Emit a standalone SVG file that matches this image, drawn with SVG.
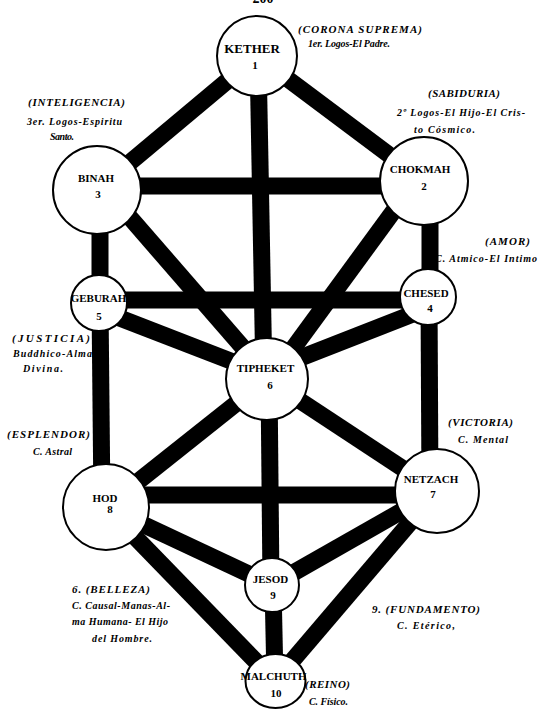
<svg xmlns="http://www.w3.org/2000/svg" width="544" height="725" viewBox="0 0 544 725">
<style>
.bar{stroke:#000;stroke-width:17;stroke-linecap:butt;fill:none}
.node{fill:#fff;stroke:#000;stroke-width:2}
.lbl{font-family:"Liberation Serif","Times New Roman",serif;font-weight:bold;font-size:11px;fill:#000;text-anchor:middle}
.ann{font-family:"Liberation Serif","Times New Roman",serif;font-weight:bold;font-style:italic;font-size:10px;fill:#000}
.cap{font-size:11px}
.pg{font-family:"Liberation Serif","Times New Roman",serif;font-weight:bold;font-size:14px;fill:#000;text-anchor:middle}
</style>
<rect width="544" height="725" fill="#fff"/>
<text class="pg" x="263" y="3">200</text>
<g id="connectors">
<line class="bar" x1="257" y1="56" x2="97" y2="190"/>
<line class="bar" x1="257" y1="56" x2="424" y2="181"/>
<line class="bar" x1="258" y1="56" x2="264" y2="379"/>
<line class="bar" x1="97" y1="186" x2="424" y2="186"/>
<line class="bar" x1="100" y1="190" x2="100" y2="303"/>
<line class="bar" x1="100" y1="183" x2="265" y2="373"/>
<line class="bar" x1="430" y1="181" x2="430" y2="297"/>
<line class="bar" x1="420" y1="175" x2="270" y2="380"/>
<line class="bar" x1="99" y1="300" x2="428" y2="300"/>
<line class="bar" x1="99" y1="310" x2="267" y2="375"/>
<line class="bar" x1="100" y1="303" x2="102" y2="507"/>
<line class="bar" x1="428" y1="308" x2="267" y2="371"/>
<line class="bar" x1="429" y1="297" x2="430" y2="491"/>
<line class="bar" x1="267" y1="379" x2="106" y2="507"/>
<line class="bar" x1="267" y1="379" x2="437" y2="491"/>
<line class="bar" x1="269" y1="379" x2="271" y2="585"/>
<line class="bar" x1="106" y1="495" x2="437" y2="495"/>
<line class="bar" x1="106" y1="507" x2="272" y2="585"/>
<line class="bar" x1="106" y1="507" x2="275" y2="681"/>
<line class="bar" x1="437" y1="491" x2="272" y2="585"/>
<line class="bar" x1="437" y1="491" x2="275" y2="681"/>
<line class="bar" x1="273" y1="585" x2="275" y2="681"/>
</g>
<g id="kether">
<circle class="node" cx="257" cy="56" r="40"/>
<text class="lbl" x="252" y="53" style="font-size:13px">KETHER</text>
<text class="lbl" x="255" y="69">1</text>
</g>
<g id="binah">
<circle class="node" cx="97" cy="190" r="44"/>
<text class="lbl" x="96" y="182">BINAH</text>
<text class="lbl" x="98" y="198">3</text>
</g>
<g id="chokmah">
<circle class="node" cx="424" cy="181" r="44"/>
<text class="lbl" x="420" y="173">CHOKMAH</text>
<text class="lbl" x="424" y="190">2</text>
</g>
<g id="geburah">
<circle class="node" cx="99" cy="303" r="28"/>
<text class="lbl" x="98.5" y="302">GEBURAH</text>
<text class="lbl" x="99" y="320">5</text>
</g>
<g id="chesed">
<circle class="node" cx="428" cy="297" r="28"/>
<text class="lbl" x="426" y="297">CHESED</text>
<text class="lbl" x="430" y="312">4</text>
</g>
<g id="tipheret">
<circle class="node" cx="267" cy="379" r="41"/>
<text class="lbl" x="265.5" y="372">TIPHEKET</text>
<text class="lbl" x="270" y="389">6</text>
</g>
<g id="hod">
<circle class="node" cx="106" cy="507" r="43"/>
<text class="lbl" x="105" y="502">HOD</text>
<text class="lbl" x="110" y="513">8</text>
</g>
<g id="netzach">
<circle class="node" cx="437" cy="491" r="42"/>
<text class="lbl" x="431" y="483">NETZACH</text>
<text class="lbl" x="433" y="498">7</text>
</g>
<g id="jesod">
<circle class="node" cx="272" cy="585" r="27"/>
<text class="lbl" x="270.5" y="583">JESOD</text>
<text class="lbl" x="273" y="599">9</text>
</g>
<g id="malchuth">
<ellipse class="node" cx="275.5" cy="681" rx="30" ry="27"/>
<text class="lbl" x="273.5" y="680">MALCHUTH</text>
<text class="lbl" x="276" y="697">10</text>
</g>
<g id="annotations">
<text class="ann cap" x="298" y="33" textLength="124">(CORONA SUPREMA)</text>
<text class="ann" x="308" y="47" textLength="82">1er. Logos-El Padre.</text>
<text class="ann cap" x="28" y="106" textLength="97">(INTELIGENCIA)</text>
<text class="ann" x="27" y="125" textLength="95">3er. Logos-Espiritu</text>
<text class="ann" x="50" y="140" textLength="24">Santo.</text>
<text class="ann cap" x="428" y="97" textLength="72">(SABIDURIA)</text>
<text class="ann" x="397" y="116" textLength="128">2º Logos-El Hijo-El Cris-</text>
<text class="ann" x="414" y="133" textLength="61">to Cósmico.</text>
<text class="ann cap" x="485" y="245" textLength="45">(AMOR)</text>
<text class="ann" x="435" y="262" textLength="102">C. Atmico-El Intimo</text>
<text class="ann cap" x="12" y="342" textLength="78">(JUSTICIA)</text>
<text class="ann" x="13" y="357" textLength="79">Buddhico-Alma</text>
<text class="ann" x="23" y="372" textLength="40">Divina.</text>
<text class="ann cap" x="7" y="438" textLength="83">(ESPLENDOR)</text>
<text class="ann" x="33" y="455" textLength="39">C. Astral</text>
<text class="ann cap" x="448" y="426" textLength="65">(VICTORIA)</text>
<text class="ann" x="458" y="443" textLength="50">C. Mental</text>
<text class="ann cap" x="72" y="593" textLength="78">6.  (BELLEZA)</text>
<text class="ann" x="72" y="609" textLength="98">C. Causal-Manas-Al-</text>
<text class="ann" x="72" y="625" textLength="96">ma Humana- El Hijo</text>
<text class="ann" x="92" y="642" textLength="60">del Hombre.</text>
<text class="ann cap" x="372" y="613" textLength="108">9.  (FUNDAMENTO)</text>
<text class="ann" x="397" y="629" textLength="58">C. Etérico,</text>
<text class="ann cap" x="305" y="688" textLength="45">(REINO)</text>
<text class="ann" x="309" y="705" textLength="39">C. Físico.</text>
</g>
</svg>
